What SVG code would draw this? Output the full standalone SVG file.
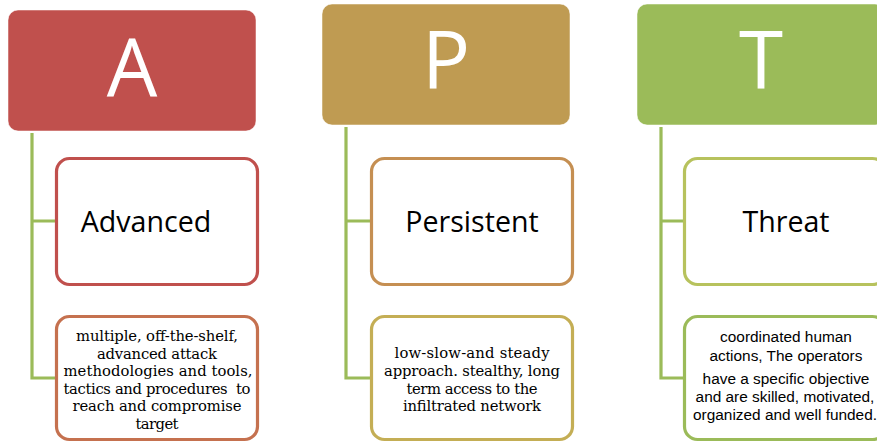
<svg xmlns="http://www.w3.org/2000/svg" width="877" height="442" viewBox="0 0 877 442">
<style>
.head{stroke:#ffffff;stroke-opacity:0.5;stroke-width:1}
.big{font-family:"Open Sans","Liberation Sans",sans-serif;font-size:80px;fill:#ffffff;text-anchor:middle}
.box{fill:#ffffff;stroke-width:3.2}
.title{font-family:"Open Sans","Liberation Sans",sans-serif;font-size:28.6px;fill:#000000;text-anchor:middle}
.serif{font-family:"DejaVu Serif","Liberation Serif",serif;font-size:14.8px;fill:#000000;text-anchor:middle}
.sans{font-family:"Liberation Sans",Arial,sans-serif;font-size:15.4px;fill:#000000;text-anchor:middle}
.conn{fill:none;stroke:#9bbb59;stroke-width:3.2}
</style>
<rect width="877" height="442" fill="#ffffff"/>
<g id="connectors">
<path class="conn" d="M32 133 V378 H56 M32 221 H56"/>
<path class="conn" d="M346 127 V378 H371 M346 221 H371"/>
<path class="conn" d="M661 127 V378 H685 M661 221 H685"/>
</g>
<g id="A">
<rect class="head" x="8" y="10" width="248" height="121" rx="10" fill="#c0504d"/>
<text class="big" x="132" y="96">A</text>
</g>
<g id="P">
<rect class="head" x="322" y="4" width="248" height="121" rx="10" fill="#bf9b52"/>
<text class="big" x="446" y="89">P</text>
</g>
<g id="T">
<rect class="head" x="637" y="4" width="248" height="121" rx="10" fill="#9bbb59"/>
<text class="big" x="761" y="89">T</text>
</g>
<g id="advanced">
<rect class="box" x="56.5" y="158.5" width="201" height="126" rx="13" stroke="#c0504d"/>
<text class="title" x="146" y="232">Advanced</text>
</g>
<g id="advanced-desc">
<rect class="box" x="56.5" y="316.5" width="201" height="123" rx="13" stroke="#c5714f"/>
<text class="serif" x="157" y="341" textLength="162" lengthAdjust="spacing">multiple, off-the-shelf,</text>
<text class="serif" x="157" y="358.5" textLength="120" lengthAdjust="spacing">advanced attack</text>
<text class="serif" x="158" y="376" textLength="189" lengthAdjust="spacing">methodologies and tools,</text>
<text class="serif" x="157" y="393.5" textLength="187" lengthAdjust="spacing" xml:space="preserve">tactics and procedures  to</text>
<text class="serif" x="157" y="411" textLength="169" lengthAdjust="spacing">reach and compromise</text>
<text class="serif" x="157" y="428.5" textLength="43" lengthAdjust="spacing">target</text>
</g>
<g id="persistent">
<rect class="box" x="371.5" y="158.5" width="201" height="126" rx="13" stroke="#c58f52"/>
<text class="title" x="472" y="232">Persistent</text>
</g>
<g id="persistent-desc">
<rect class="box" x="371.5" y="316.5" width="201" height="123" rx="13" stroke="#c4ae55"/>
<text class="serif" x="472" y="358" textLength="155" lengthAdjust="spacing">low-slow-and steady</text>
<text class="serif" x="472" y="376" textLength="176" lengthAdjust="spacing">approach. stealthy, long</text>
<text class="serif" x="472" y="393.5" textLength="131" lengthAdjust="spacing">term access to the</text>
<text class="serif" x="472" y="411" textLength="138" lengthAdjust="spacing">infiltrated network</text>
</g>
<g id="threat">
<rect class="box" x="684.5" y="158.5" width="201" height="126" rx="13" stroke="#b7c25d"/>
<text class="title" x="786" y="232">Threat</text>
</g>
<g id="threat-desc">
<rect class="box" x="684.5" y="316.5" width="201" height="123" rx="13" stroke="#9bbb59"/>
<text class="sans" x="786" y="342">coordinated human</text>
<text class="sans" x="786" y="361">actions, The operators</text>
<text class="sans" x="786" y="384">have a specific objective</text>
<text class="sans" x="785" y="402">and are skilled, motivated,</text>
<text class="sans" x="785" y="420">organized and well funded.</text>
</g>
</svg>
